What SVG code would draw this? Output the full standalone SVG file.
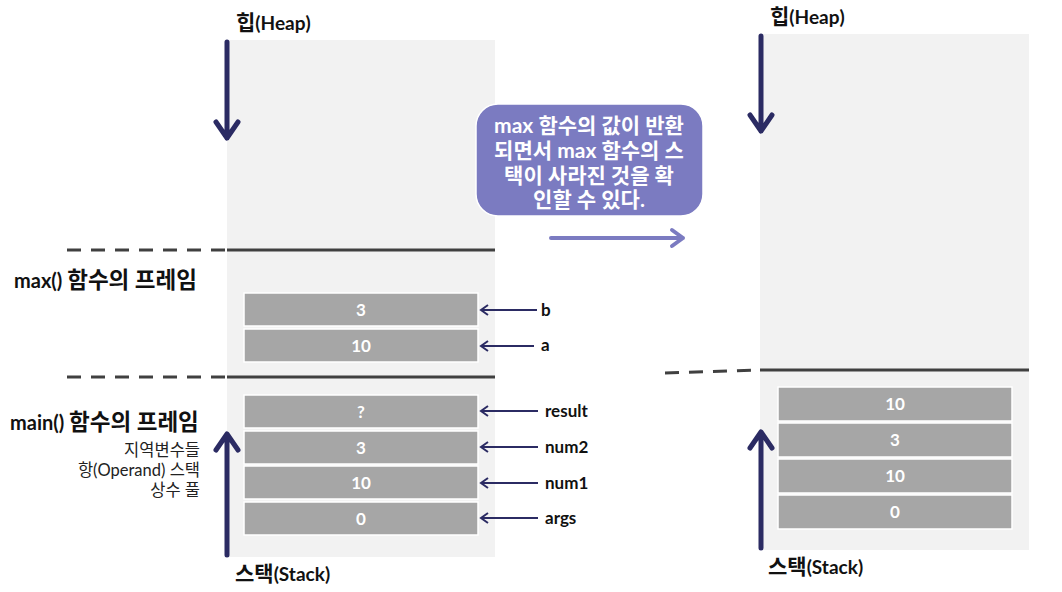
<svg xmlns="http://www.w3.org/2000/svg" width="1062" height="592" viewBox="0 0 1062 592">
<style>
.t{font-family:Lato,"Noto Sans CJK KR",sans-serif;fill:#111}
.h{font-size:19px;font-weight:bold}
.hh{font-size:20px;font-weight:bold}
.k{font-size:21px}
.kk{font-size:22.5px}
.s{font-size:16.5px;text-anchor:end;fill:#222}
.lab{font-size:17px;font-weight:bold}
.box{fill:#a6a6a6;stroke:#fff;stroke-width:1.5}
.bt{font-family:Lato,"Noto Sans CJK KR",sans-serif;font-size:17px;font-weight:bold;fill:#fff;text-anchor:middle}
.bb{font-size:21px}
.panel{fill:#f2f2f2}
.sep{stroke:#404040;stroke-width:3;fill:none}
.dash{stroke:#404040;stroke-width:3;stroke-dasharray:14,10;fill:none}
.big{stroke:#2b2b63;stroke-width:5;fill:none;stroke-linecap:round;stroke-linejoin:round}
.sm{stroke:#2b2b63;stroke-width:2;fill:none}
.pur{stroke:#7b7bc1;stroke-width:4;fill:none;stroke-linecap:round;stroke-linejoin:round}
</style>
<g id="left-panel">
<rect class="panel" x="227" y="40" width="268" height="517"/>
<text class="t h" x="236" y="30"><tspan class="k">힙</tspan>(Heap)</text>
<text class="t h" x="235" y="581"><tspan class="k">스택</tspan>(Stack)</text>
</g>
<g id="right-panel">
<rect class="panel" x="760" y="34" width="269" height="516"/>
<text class="t h" x="770" y="24"><tspan class="k">힙</tspan>(Heap)</text>
<text class="t h" x="768" y="574"><tspan class="k">스택</tspan>(Stack)</text>
</g>
<g id="separators">
<line class="dash" x1="67" y1="250" x2="227" y2="250"/>
<line class="sep" x1="227" y1="250" x2="495" y2="250"/>
<line class="dash" x1="67" y1="377" x2="227" y2="377"/>
<line class="sep" x1="227" y1="377" x2="495" y2="377"/>
<line class="dash" x1="665" y1="373" x2="760" y2="370"/>
<line class="sep" x1="760" y1="370" x2="1029" y2="370"/>
</g>
<g id="max-frame-label">
<text class="t hh" x="14" y="288">max() <tspan class="kk">함수의 프레임</tspan></text>
</g>
<g id="main-frame-label">
<text class="t hh" x="10" y="430">main() <tspan class="kk">함수의 프레임</tspan></text>
<text class="t s" x="200" y="456">지역변수들</text>
<text class="t s" x="200" y="476">항(Operand) 스택</text>
<text class="t s" x="200" y="496">상수 풀</text>
</g>
<g id="box-b"><rect class="box" x="244" y="293" width="234" height="33"/><text class="bt" x="361" y="316">3</text></g>
<g id="box-a"><rect class="box" x="244" y="329" width="234" height="33"/><text class="bt" x="361" y="352">10</text></g>
<g id="box-result"><rect class="box" x="244" y="395" width="234" height="33"/><text class="bt" x="361" y="418">?</text></g>
<g id="box-num2"><rect class="box" x="244" y="431" width="234" height="33"/><text class="bt" x="361" y="454">3</text></g>
<g id="box-num1"><rect class="box" x="244" y="466" width="234" height="33"/><text class="bt" x="361" y="489">10</text></g>
<g id="box-args"><rect class="box" x="244" y="502" width="234" height="33"/><text class="bt" x="361" y="525">0</text></g>
<g id="r-box-1"><rect class="box" x="778" y="387" width="234" height="34"/><text class="bt" x="895" y="410">10</text></g>
<g id="r-box-2"><rect class="box" x="778" y="423" width="234" height="34"/><text class="bt" x="895" y="446">3</text></g>
<g id="r-box-3"><rect class="box" x="778" y="459" width="234" height="34"/><text class="bt" x="895" y="482">10</text></g>
<g id="r-box-4"><rect class="box" x="778" y="495" width="234" height="34"/><text class="bt" x="895" y="518">0</text></g>
<g id="labels">
<text class="t lab" x="541" y="316">b</text>
<text class="t lab" x="541" y="351">a</text>
<text class="t lab" x="545" y="417">result</text>
<text class="t lab" x="545" y="453">num2</text>
<text class="t lab" x="545" y="489">num1</text>
<text class="t lab" x="545" y="524">args</text>
</g>
<g id="bubble">
<rect x="476" y="104" width="227" height="112" rx="22" fill="#7b7bc1" stroke="#fff" stroke-width="1.5"/>
<text class="bt bb" x="589" y="133">max 함수의 값이 반환</text>
<text class="bt bb" x="589" y="158">되면서 max 함수의 스</text>
<text class="bt bb" x="589" y="183">택이 사라진 것을 확</text>
<text class="bt bb" x="589" y="207">인할 수 있다.</text>
</g>
<g id="connectors">
<path class="big" d="M227,42 V138 M216,122 L227,138 L238,122"/>
<path class="big" d="M227,555 V434 M216,450 L227,434 L238,450"/>
<path class="big" d="M761,36 V131 M750,115 L761,131 L772,115"/>
<path class="big" d="M761,548 V432 M750,448 L761,432 L772,448"/>
<path class="sm" d="M537,310 H481 M488,305 L481,310 L488,315"/>
<path class="sm" d="M534,346 H481 M488,341 L481,346 L488,351"/>
<path class="sm" d="M538,411 H481 M488,406 L481,411 L488,416"/>
<path class="sm" d="M538,447 H481 M488,442 L481,447 L488,452"/>
<path class="sm" d="M538,483 H481 M488,478 L481,483 L488,488"/>
<path class="sm" d="M538,518 H481 M488,513 L481,518 L488,523"/>
<path class="pur" d="M551,238 H683 M672,230 L683,238 L672,246"/>
</g>
</svg>
